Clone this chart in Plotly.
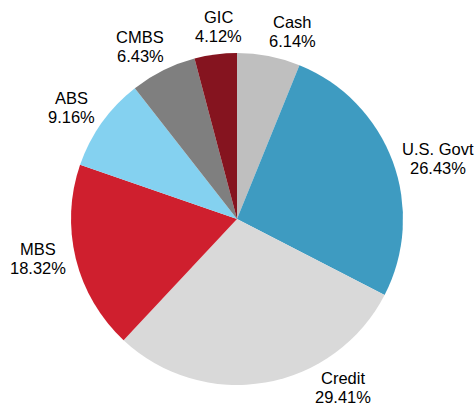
import plotly.graph_objects as go

categories = ["Cash", "U.S. Govt", "Credit", "MBS", "ABS", "CMBS", "GIC"]
values = [6.14, 26.43, 29.41, 18.32, 9.16, 6.43, 4.12]
colors = ["#bfbfbf", "#3e9bc1", "#d9d9d9", "#cf1f2e", "#84d1f0", "#7f7f7f", "#85141f"]

# label placement (pixel centres of each two-line label block) - style only
label_px = [(292, 32), (437.5, 158.5), (342.5, 387.5), (38, 258.5),
            (71, 107), (140, 46), (218, 26.5)]

W, H = 475, 406
CX, CY, R = 237, 219, 166
LINE = 19
FONT = dict(family="Liberation Sans, Arial, sans-serif", size=16.5, color="#000000")

fig = go.Figure(go.Pie(
    labels=categories,
    values=values,
    textinfo="none",
    sort=False,
    direction="clockwise",
    rotation=0,
    marker=dict(colors=colors, line=dict(width=0)),
    showlegend=False,
    hoverinfo="label+percent",
    domain=dict(x=[(CX - R) / W, (CX + R) / W],
                y=[1 - (CY + R) / H, 1 - (CY - R) / H]),
))

annotations = []
for cat, val, (px, py) in zip(categories, values, label_px):
    for txt, dy in ((cat, -LINE / 2), (f"{val:.2f}%", LINE / 2)):
        annotations.append(dict(
            text=txt, x=px / W, y=1 - (py + dy) / H,
            xref="paper", yref="paper", xanchor="center", yanchor="middle",
            showarrow=False, font=FONT,
        ))

fig.update_layout(
    width=W, height=H,
    margin=dict(l=0, r=0, t=0, b=0),
    paper_bgcolor="white",
    plot_bgcolor="white",
    annotations=annotations,
)

fig.write_html(
    "out.html",
    config={"displayModeBar": False},
    post_script="document.body.style.margin='0';document.body.style.overflow='hidden';",
)
